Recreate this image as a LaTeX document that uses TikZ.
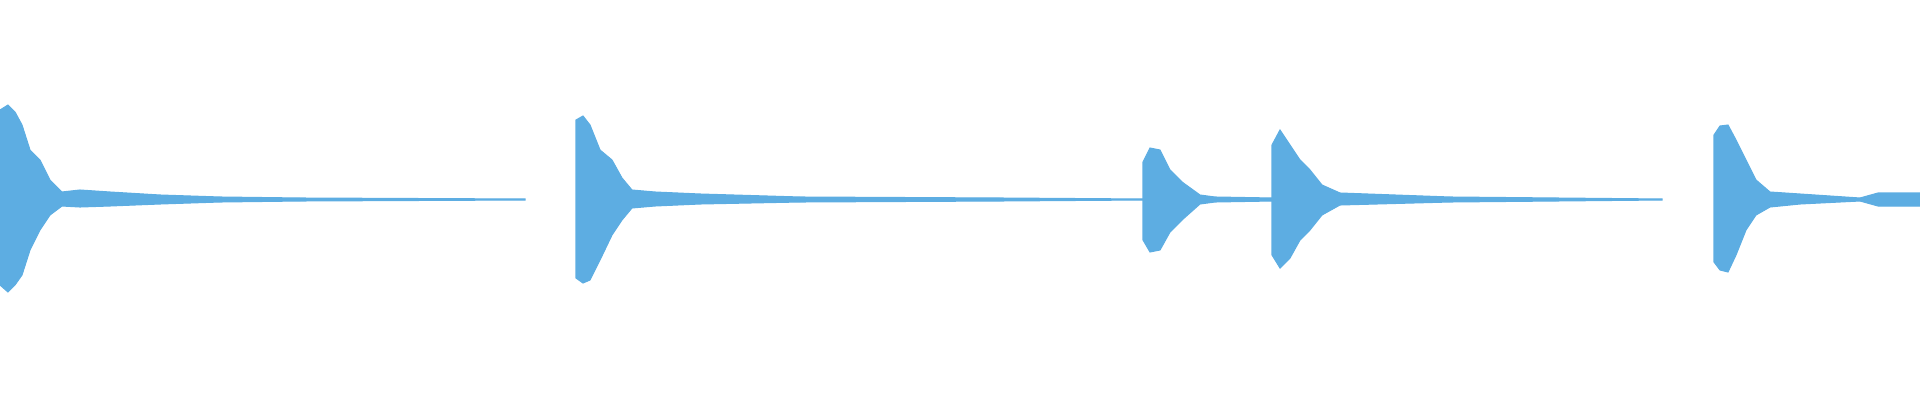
\documentclass[tikz,border=0pt]{standalone}
\definecolor{wavecol}{RGB}{93,173,226}
\tikzset{wave/.style={fill=wavecol, draw=wavecol, line width=0.3pt}}
\begin{document}
\begin{tikzpicture}[x=0.01cm, y=-0.01cm]
\useasboundingbox (0,0) rectangle (1920,400);

% first hit
\path[wave] (0,110) -- (8,105) -- (15,112) -- (22,125) -- (30,150) -- (40,160) -- (50,180) -- (62,192) -- (80,190) -- (110,192) -- (160,195) -- (220,197) -- (300,198) -- (525,199)
  -- (525,200) -- (300,201) -- (220,202) -- (160,204) -- (110,206) -- (80,207) -- (62,206) -- (50,215) -- (40,230) -- (30,250) -- (22,275) -- (15,285) -- (8,292) -- (0,285) -- cycle;
% second hit
\path[wave] (576,120) -- (583,116) -- (590,125) -- (600,150) -- (612,160) -- (622,178) -- (632,190) -- (655,192) -- (700,194) -- (800,197) -- (1000,198) -- (1143,199)
  -- (1143,200) -- (1000,201) -- (800,202) -- (700,204) -- (655,206) -- (632,208) -- (622,220) -- (612,235) -- (600,260) -- (590,280) -- (583,283) -- (576,278) -- cycle;
% third hit
\path[wave] (1143,162) -- (1150,148) -- (1160,150) -- (1170,170) -- (1182,182) -- (1200,195) -- (1215,197) -- (1272,198)
  -- (1272,201) -- (1215,202) -- (1200,204) -- (1182,220) -- (1170,232) -- (1160,250) -- (1150,252) -- (1143,240) -- cycle;
% fourth hit
\path[wave] (1272,145) -- (1280,130) -- (1290,145) -- (1300,160) -- (1310,170) -- (1322,185) -- (1340,193) -- (1450,197) -- (1662,199)
  -- (1662,200) -- (1450,202) -- (1340,205) -- (1322,215) -- (1310,230) -- (1300,240) -- (1290,258) -- (1280,268) -- (1272,255) -- cycle;
% fifth hit
\path[wave] (1714,135) -- (1720,126) -- (1728,125) -- (1736,140) -- (1746,160) -- (1756,180) -- (1770,192) -- (1800,194) -- (1860,198) -- (1878,193) -- (1920,193)
  -- (1920,206) -- (1878,206) -- (1860,201) -- (1800,204) -- (1770,207) -- (1756,215) -- (1746,230) -- (1736,255) -- (1728,272) -- (1720,270) -- (1714,262) -- cycle;
\end{tikzpicture}
\end{document}
